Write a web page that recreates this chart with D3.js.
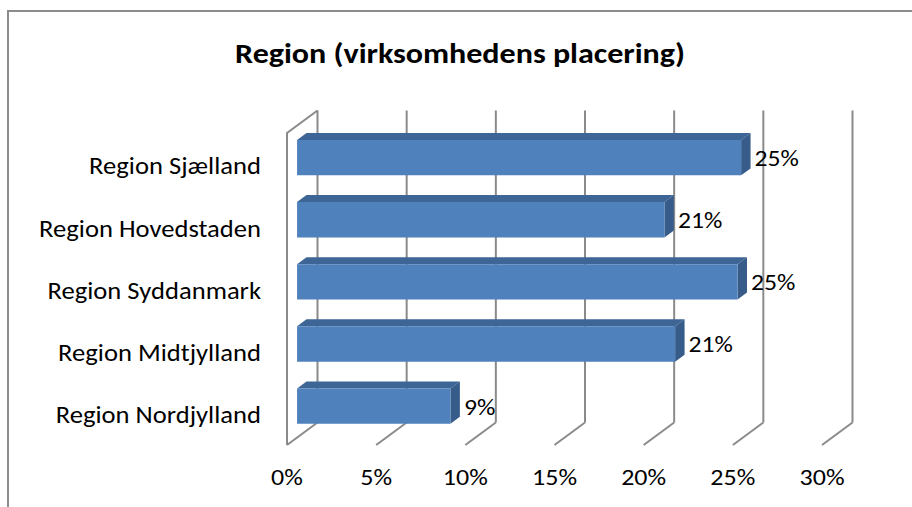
<!DOCTYPE html>
<html>
<head>
<meta charset="utf-8">
<script src="https://cdn.jsdelivr.net/npm/d3@7"></script>
<style>
  html, body { margin: 0; padding: 0; background: #fff; }
  svg { display: block; }
  text { font-family: Carlito, Calibri, Lato, "Noto Sans", sans-serif; fill: #000; }
</style>
</head>
<body>
<svg id="chart" width="912" height="507"></svg>
<script>
// Region (virksomhedens placering) — 3D clustered bar

const categories = ["Region Sjælland", "Region Hovedstaden", "Region Syddanmark", "Region Midtjylland", "Region Nordjylland"];
const values     = [0.249, 0.206, 0.247, 0.212, 0.086];
const ticks      = [0, 0.05, 0.10, 0.15, 0.20, 0.25, 0.30];
const title      = "Region (virksomhedens placering)";

const W = 912, H = 507;
const svg = d3.select("#chart");

// depth of the plot box (front -> back wall)
const DEPTH = { dx: 30.5, dy: -22.5 };
// bars sit from 1/3 to ~2/3 of the depth
const BAR_F0 = 0.33, BAR_F1 = 0.64;

const FLOOR_Y = 445;   // front edge of the floor
const TOP_Y   = 133;   // front top of the left wall

const x = d3.scaleLinear().domain([0, 0.3]).range([287, 822]);   // front plane
const y = d3.scaleBand().domain(categories)
  .range([126.65 + 7.4, 437.15 + 7.4])          // front plane (depth 0)
  .paddingInner(0.43).paddingOuter(0.215);

// project (value, frontY, depth fraction) to screen
function P(v, yy, f) {
  return [x(v) + DEPTH.dx * f, yy + DEPTH.dy * f];
}

const grid = "#8a8a8a";

// ── outer chart border (runs off the right / bottom edges) ────────────────
svg.append("path")
  .attr("d", `M8,${H + 5}L8,11L${W + 5},11`)
  .attr("fill", "none").attr("stroke", "#8c8c8c").attr("stroke-width", 2);

// ── walls & gridlines ─────────────────────────────────────────────────────
const g = svg.append("g").attr("fill", "none").attr("stroke", grid).attr("stroke-width", 2);

// back wall verticals
g.selectAll("line.back").data(ticks).enter().append("line")
  .attr("class", "back")
  .attr("x1", d => P(d, TOP_Y, 1)[0]).attr("y1", d => P(d, TOP_Y, 1)[1])
  .attr("x2", d => P(d, FLOOR_Y, 1)[0]).attr("y2", d => P(d, FLOOR_Y, 1)[1]);

// floor diagonals
g.selectAll("line.floor").data(ticks).enter().append("line")
  .attr("class", "floor")
  .attr("x1", d => P(d, FLOOR_Y, 0)[0]).attr("y1", d => P(d, FLOOR_Y, 0)[1])
  .attr("x2", d => P(d, FLOOR_Y, 1)[0]).attr("y2", d => P(d, FLOOR_Y, 1)[1]);

// left side wall
g.append("path")
  .attr("d", d3.line()([P(0, FLOOR_Y, 0), P(0, TOP_Y, 0), P(0, TOP_Y, 1)]));

// ── bars ──────────────────────────────────────────────────────────────────
const data = categories.map((c, i) => ({ cat: c, v: values[i] }));
const bars = svg.append("g").selectAll("g.bar").data(data).enter().append("g").attr("class", "bar");

const poly = pts => "M" + pts.map(p => p.join(",")).join("L") + "Z";

bars.append("path")   // top face
  .attr("fill", "#3d6595")
  .attr("d", d => {
    const t = y(d.cat);
    return poly([P(0, t, BAR_F0), P(d.v, t, BAR_F0), P(d.v, t, BAR_F1), P(0, t, BAR_F1)]);
  });

bars.append("path")   // end face
  .attr("fill", "#375c8a")
  .attr("d", d => {
    const t = y(d.cat), b = t + y.bandwidth();
    return poly([P(d.v, t, BAR_F0), P(d.v, t, BAR_F1), P(d.v, b, BAR_F1), P(d.v, b, BAR_F0)]);
  });

bars.append("path")   // front face
  .attr("fill", "#4f81bd")
  .attr("d", d => {
    const t = y(d.cat), b = t + y.bandwidth();
    return poly([P(0, t, BAR_F0), P(d.v, t, BAR_F0), P(d.v, b, BAR_F0), P(0, b, BAR_F0)]);
  });

// ── text helpers ──────────────────────────────────────────────────────────
// Calibri is narrower than the fallback fonts: keep the size, squeeze horizontally
function squeeze(sel, sample, target, size, pos) {
  sel.attr("font-size", size);
  const probe = svg.append("text").attr("font-size", size)
    .attr("font-weight", sel.attr("font-weight")).text(sample);
  const k = target / probe.node().getComputedTextLength();
  probe.remove();
  sel.attr("x", 0).attr("y", 0)
    .attr("transform", (d, i) => { const p = pos(d, i); return `translate(${p[0]},${p[1]}) scale(${k},1)`; });
}

// data labels
const dl = bars.append("text").text(d => d3.format(".0%")(d.v));
squeeze(dl, "25%", 44.4, 22,
  d => [P(d.v, 0, BAR_F1)[0] + 4, P(0, y(d.cat) + y.bandwidth() / 2, BAR_F0)[1] + 8.5]);

// category labels
const cl = svg.append("g").selectAll("text").data(categories).enter().append("text")
  .attr("text-anchor", "end").text(d => d);
squeeze(cl, "Region Hovedstaden", 222, 23.5, d => [261, y(d) + y.bandwidth() / 2 + 9.3]);

// value-axis tick labels
const tl = svg.append("g").selectAll("text").data(ticks).enter().append("text")
  .attr("text-anchor", "middle").text(d => d3.format(".0%")(d));
squeeze(tl, "10%", 45, 21.5, d => [x(d), 485]);

// title
const tt = svg.append("text")
  .attr("font-weight", "bold").attr("text-anchor", "middle").text(title);
squeeze(tt, title, 450, 28, () => [460, 63]);
</script>
</body>
</html>
